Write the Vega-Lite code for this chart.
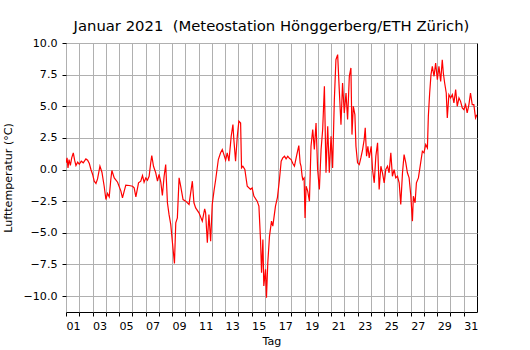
{
  "$schema": "https://vega.github.io/schema/vega-lite/v6.json",
  "width": 411,
  "height": 269,
  "autosize": {"type": "none"},
  "padding": {"left": 66, "top": 43, "right": 53, "bottom": 38},
  "background": "white",
  "title": {
    "text": "Januar 2021 \u00a0(Meteostation Hönggerberg/ETH Zürich)",
    "font": "DejaVu Sans",
    "fontSize": 14.8,
    "fontWeight": "normal",
    "color": "black",
    "anchor": "middle",
    "baseline": "alphabetic",
    "offset": 9.5,
    "dy": 18
  },
  "config": {
    "view": {"stroke": "black", "strokeWidth": 1},
    "axis": {
      "labelFont": "DejaVu Sans",
      "titleFont": "DejaVu Sans",
      "labelFontSize": 11.1,
      "titleFontSize": 11.1,
      "titleFontWeight": "normal",
      "labelColor": "black",
      "titleColor": "black",
      "tickColor": "black",
      "tickSize": 4,
      "domain": false,
      "gridColor": "#b0b0b0",
      "gridWidth": 1,
      "gridOpacity": 1
    }
  },
  "data": {"values": [
    {"t": 1.0, "v": 0.53}, {"t": 1.08, "v": 0.92}, {"t": 1.15, "v": 0.13}, {"t": 1.23, "v": 0.79},
    {"t": 1.33, "v": 0.32}, {"t": 1.43, "v": 0.92}, {"t": 1.55, "v": 1.32}, {"t": 1.65, "v": 0.74},
    {"t": 1.75, "v": 0.32}, {"t": 1.88, "v": 0.58}, {"t": 2.0, "v": 0.42}, {"t": 2.15, "v": 0.66},
    {"t": 2.3, "v": 0.53}, {"t": 2.5, "v": 0.84}, {"t": 2.63, "v": 0.74}, {"t": 2.76, "v": 0.47},
    {"t": 2.88, "v": 0.0}, {"t": 3.01, "v": -0.39}, {"t": 3.13, "v": -0.92}, {"t": 3.26, "v": -1.1},
    {"t": 3.38, "v": -0.74}, {"t": 3.56, "v": 0.26}, {"t": 3.71, "v": -0.21}, {"t": 3.88, "v": -1.32},
    {"t": 4.01, "v": -2.37}, {"t": 4.13, "v": -1.89}, {"t": 4.26, "v": -2.16}, {"t": 4.38, "v": -0.79},
    {"t": 4.46, "v": -0.08}, {"t": 4.64, "v": -0.66}, {"t": 4.89, "v": -1.0}, {"t": 5.14, "v": -1.71},
    {"t": 5.26, "v": -2.24}, {"t": 5.39, "v": -1.71}, {"t": 5.51, "v": -1.24}, {"t": 5.76, "v": -1.26},
    {"t": 6.02, "v": -1.32}, {"t": 6.14, "v": -1.45}, {"t": 6.27, "v": -2.16}, {"t": 6.47, "v": -1.05},
    {"t": 6.64, "v": -0.92}, {"t": 6.77, "v": -0.47}, {"t": 6.89, "v": -1.0}, {"t": 7.02, "v": -0.66},
    {"t": 7.14, "v": -0.84}, {"t": 7.27, "v": -0.53}, {"t": 7.39, "v": 0.53}, {"t": 7.47, "v": 1.1},
    {"t": 7.6, "v": 0.26}, {"t": 7.77, "v": -0.26}, {"t": 7.9, "v": -0.92}, {"t": 8.02, "v": -0.39},
    {"t": 8.15, "v": -1.0}, {"t": 8.27, "v": -2.05}, {"t": 8.4, "v": -0.53}, {"t": 8.52, "v": 0.39},
    {"t": 8.65, "v": -2.63}, {"t": 8.77, "v": -3.55}, {"t": 8.9, "v": -4.34}, {"t": 9.03, "v": -5.79},
    {"t": 9.18, "v": -7.42}, {"t": 9.28, "v": -4.21}, {"t": 9.4, "v": -3.82}, {"t": 9.53, "v": -0.66},
    {"t": 9.65, "v": -1.32}, {"t": 9.83, "v": -2.37}, {"t": 10.03, "v": -2.5}, {"t": 10.28, "v": -2.76},
    {"t": 10.53, "v": -0.92}, {"t": 10.65, "v": -2.63}, {"t": 10.78, "v": -3.03}, {"t": 11.03, "v": -3.42},
    {"t": 11.28, "v": -4.08}, {"t": 11.46, "v": -3.11}, {"t": 11.53, "v": -3.42}, {"t": 11.66, "v": -5.79},
    {"t": 11.78, "v": -3.55}, {"t": 11.91, "v": -5.66}, {"t": 12.03, "v": -2.76}, {"t": 12.16, "v": -1.71},
    {"t": 12.29, "v": -0.79}, {"t": 12.49, "v": 0.79}, {"t": 12.66, "v": 1.32}, {"t": 12.79, "v": 1.58},
    {"t": 12.91, "v": 1.18}, {"t": 13.04, "v": 0.74}, {"t": 13.16, "v": 1.32}, {"t": 13.29, "v": 0.66},
    {"t": 13.46, "v": 2.63}, {"t": 13.59, "v": 3.55}, {"t": 13.66, "v": 2.37}, {"t": 13.79, "v": 0.66},
    {"t": 13.92, "v": 2.63}, {"t": 14.04, "v": 3.82}, {"t": 14.17, "v": 3.68}, {"t": 14.24, "v": 0.13},
    {"t": 14.34, "v": 0.26}, {"t": 14.49, "v": 0.0}, {"t": 14.67, "v": -1.32}, {"t": 14.92, "v": -1.58},
    {"t": 15.04, "v": -1.45}, {"t": 15.17, "v": -2.1}, {"t": 15.42, "v": -2.5}, {"t": 15.55, "v": -2.89},
    {"t": 15.67, "v": -5.53}, {"t": 15.75, "v": -8.16}, {"t": 15.85, "v": -5.53}, {"t": 15.92, "v": -9.21},
    {"t": 16.05, "v": -7.89}, {"t": 16.12, "v": -10.13}, {"t": 16.22, "v": -7.37}, {"t": 16.35, "v": -5.26},
    {"t": 16.5, "v": -4.08}, {"t": 16.6, "v": -4.47}, {"t": 16.8, "v": -2.89}, {"t": 16.95, "v": -2.2},
    {"t": 17.1, "v": -0.79}, {"t": 17.23, "v": 0.66}, {"t": 17.35, "v": 0.92}, {"t": 17.48, "v": 1.05},
    {"t": 17.6, "v": 0.84}, {"t": 17.73, "v": 1.05}, {"t": 17.85, "v": 0.89}, {"t": 17.98, "v": 0.79},
    {"t": 18.11, "v": 0.47}, {"t": 18.23, "v": 0.26}, {"t": 18.41, "v": 1.18}, {"t": 18.56, "v": 1.89},
    {"t": 18.66, "v": 0.53}, {"t": 18.73, "v": 0.26}, {"t": 18.81, "v": -0.53}, {"t": 18.86, "v": -0.79},
    {"t": 18.96, "v": -0.66}, {"t": 19.03, "v": -3.82}, {"t": 19.11, "v": -1.32}, {"t": 19.23, "v": -1.71},
    {"t": 19.36, "v": -2.5}, {"t": 19.48, "v": 1.84}, {"t": 19.61, "v": 3.16}, {"t": 19.73, "v": 1.58},
    {"t": 19.86, "v": 3.68}, {"t": 19.98, "v": 0.0}, {"t": 20.11, "v": -1.58}, {"t": 20.24, "v": 1.58},
    {"t": 20.36, "v": 3.16}, {"t": 20.49, "v": 6.58}, {"t": 20.61, "v": -0.26}, {"t": 20.74, "v": 3.42},
    {"t": 20.86, "v": -0.26}, {"t": 20.99, "v": 2.63}, {"t": 21.11, "v": 0.13}, {"t": 21.24, "v": 5.53},
    {"t": 21.36, "v": 8.68}, {"t": 21.49, "v": 9.08}, {"t": 21.61, "v": 6.32}, {"t": 21.74, "v": 3.55},
    {"t": 21.86, "v": 6.84}, {"t": 21.99, "v": 4.47}, {"t": 22.12, "v": 6.05}, {"t": 22.24, "v": 3.95},
    {"t": 22.37, "v": 7.37}, {"t": 22.49, "v": 8.03}, {"t": 22.57, "v": 2.76}, {"t": 22.67, "v": 5.0},
    {"t": 22.79, "v": 4.34}, {"t": 22.87, "v": 1.84}, {"t": 22.99, "v": 0.53}, {"t": 23.12, "v": 0.39},
    {"t": 23.24, "v": 0.92}, {"t": 23.37, "v": 1.58}, {"t": 23.49, "v": 2.37}, {"t": 23.57, "v": 3.29},
    {"t": 23.67, "v": 1.05}, {"t": 23.77, "v": 1.84}, {"t": 23.87, "v": 0.92}, {"t": 24.02, "v": 1.84},
    {"t": 24.12, "v": 0.0}, {"t": 24.25, "v": -1.05}, {"t": 24.37, "v": 1.05}, {"t": 24.5, "v": 2.11},
    {"t": 24.62, "v": -1.58}, {"t": 24.75, "v": 0.26}, {"t": 24.87, "v": -0.26}, {"t": 25.0, "v": -1.05},
    {"t": 25.12, "v": 0.0}, {"t": 25.25, "v": 0.26}, {"t": 25.37, "v": -0.26}, {"t": 25.5, "v": 1.32},
    {"t": 25.62, "v": -0.53}, {"t": 25.75, "v": 0.0}, {"t": 25.87, "v": -0.66}, {"t": 26.0, "v": -0.53},
    {"t": 26.13, "v": -1.05}, {"t": 26.25, "v": -2.76}, {"t": 26.38, "v": -0.26}, {"t": 26.5, "v": 1.18},
    {"t": 26.63, "v": 0.53}, {"t": 26.75, "v": -0.26}, {"t": 26.88, "v": -0.66}, {"t": 27.0, "v": -1.97},
    {"t": 27.13, "v": -4.08}, {"t": 27.2, "v": -2.11}, {"t": 27.33, "v": -2.63}, {"t": 27.43, "v": -1.05},
    {"t": 27.58, "v": -0.66}, {"t": 27.75, "v": 0.53}, {"t": 27.88, "v": 1.45}, {"t": 28.0, "v": 1.32},
    {"t": 28.13, "v": 1.97}, {"t": 28.26, "v": 1.71}, {"t": 28.33, "v": 4.21}, {"t": 28.43, "v": 6.05},
    {"t": 28.53, "v": 7.5}, {"t": 28.63, "v": 8.16}, {"t": 28.76, "v": 7.37}, {"t": 28.88, "v": 8.42},
    {"t": 29.01, "v": 7.11}, {"t": 29.13, "v": 8.16}, {"t": 29.26, "v": 6.97}, {"t": 29.38, "v": 8.68},
    {"t": 29.46, "v": 7.63}, {"t": 29.56, "v": 6.84}, {"t": 29.68, "v": 6.05}, {"t": 29.76, "v": 4.08},
    {"t": 29.88, "v": 5.92}, {"t": 30.01, "v": 5.66}, {"t": 30.14, "v": 5.92}, {"t": 30.26, "v": 5.26},
    {"t": 30.39, "v": 6.32}, {"t": 30.51, "v": 5.0}, {"t": 30.64, "v": 5.66}, {"t": 30.76, "v": 5.39},
    {"t": 30.89, "v": 4.87}, {"t": 31.01, "v": 4.74}, {"t": 31.14, "v": 5.13}, {"t": 31.26, "v": 4.47},
    {"t": 31.39, "v": 5.13}, {"t": 31.51, "v": 6.05}, {"t": 31.64, "v": 5.13}, {"t": 31.76, "v": 5.13},
    {"t": 31.89, "v": 4.08}, {"t": 31.99, "v": 4.34}
  ]},
  "mark": {"type": "line", "color": "#ff0000", "strokeWidth": 1.2, "clip": true},
  "encoding": {
    "x": {
      "field": "t",
      "type": "quantitative",
      "scale": {"domain": [1, 32], "nice": false, "zero": false},
      "axis": {
        "title": "Tag",
        "values": [1,2,3,4,5,6,7,8,9,10,11,12,13,14,15,16,17,18,19,20,21,22,23,24,25,26,27,28,29,30,31],
        "labelExpr": "datum.value % 2 == 1 ? (datum.value < 10 ? '0' + datum.value : '' + datum.value) : ''",
        "labelAlign": "left",
        "labelPadding": 4,
        "labelFlush": false,
        "labelOverlap": false,
        "titlePadding": 4
      }
    },
    "y": {
      "field": "v",
      "type": "quantitative",
      "scale": {"domain": [-11.26, 10], "nice": false, "zero": false},
      "axis": {
        "title": "Lufttemperatur (°C)",
        "values": [-10, -7.5, -5, -2.5, 0, 2.5, 5, 7.5, 10],
        "format": ".1f",
        "labelPadding": 5,
        "labelFlush": false,
        "labelOverlap": false,
        "titleX": -55,
        "titleY": 134.5,
        "titleAngle": -90,
        "titleAlign": "center",
        "titleBaseline": "alphabetic"
      }
    }
  }
}
